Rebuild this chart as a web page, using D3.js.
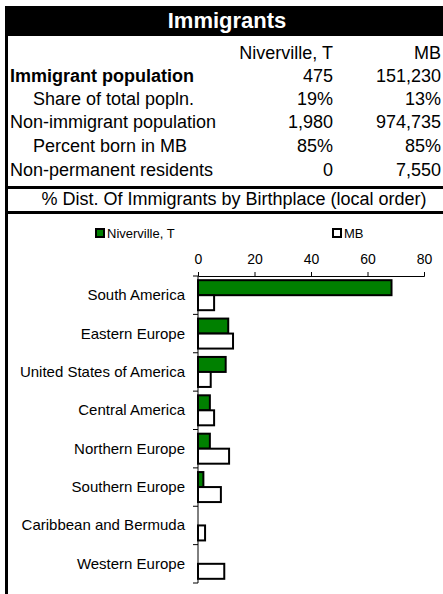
<!DOCTYPE html>
<html><head><meta charset="utf-8">
<script src="https://cdn.jsdelivr.net/npm/d3@7/dist/d3.min.js"></script>
<style>body{margin:0;background:#fff}svg{display:block;font-family:"Liberation Sans",Arial,sans-serif}</style>
</head><body>
<svg id="c" width="443" height="594"></svg>
<script>
const title = "Immigrants";
const columnHeaders = ["Niverville, T", "MB"];
const rowLabels = ["Immigrant population", "Share of total popln.", "Non-immigrant population", "Percent born in MB", "Non-permanent residents"];
const rowBold = [true, false, false, false, false];
const rowIndent = [false, true, false, true, false];
const localValues = ["475", "19%", "1,980", "85%", "0"];
const mbValues = ["151,230", "13%", "974,735", "85%", "7,550"];
const chartTitle = "% Dist. Of Immigrants by Birthplace (local order)";
const categories = ["South America", "Eastern Europe", "United States of America", "Central America", "Northern Europe", "Southern Europe", "Caribbean and Bermuda", "Western Europe"];
const localSeries = [68.5, 10.7, 9.8, 4.2, 4.2, 1.9, 0, 0];
const mbSeries = [5.7, 12.4, 4.5, 5.7, 11.0, 8.1, 2.5, 9.3];
const seriesNames = ["Niverville, T", "MB"];
const xTicks = [0, 20, 40, 60, 80];

const svg = d3.select("#c");
// title bar
svg.append("rect").attr("x", 5).attr("y", 6).attr("width", 438).attr("height", 30).attr("fill", "#000");
svg.append("text").attr("x", 227).attr("y", 28).attr("text-anchor", "middle").attr("fill", "#fff")
  .attr("font-size", 22).attr("font-weight", "bold").text(title);
// left border
svg.append("rect").attr("x", 5).attr("y", 36).attr("width", 3).attr("height", 558).attr("fill", "#000");

const fs = 18;
const col1 = 333, col2 = 441;
svg.append("text").attr("x", col1).attr("y", 59).attr("text-anchor", "end").attr("font-size", fs).text(columnHeaders[0]);
svg.append("text").attr("x", col2).attr("y", 59).attr("text-anchor", "end").attr("font-size", fs).text(columnHeaders[1]);
const rowY = [82, 105, 128, 152, 176];
rowLabels.forEach((l, i) => {
  svg.append("text").attr("x", rowIndent[i] ? 33 : 10).attr("y", rowY[i]).attr("font-size", fs)
    .attr("font-weight", rowBold[i] ? "bold" : "normal").text(l);
  svg.append("text").attr("x", col1).attr("y", rowY[i]).attr("text-anchor", "end").attr("font-size", fs).text(localValues[i]);
  svg.append("text").attr("x", col2).attr("y", rowY[i]).attr("text-anchor", "end").attr("font-size", fs).text(mbValues[i]);
});
svg.append("rect").attr("x", 5).attr("y", 186).attr("width", 438).attr("height", 3).attr("fill", "#000");
svg.append("text").attr("x", 234).attr("y", 205).attr("text-anchor", "middle").attr("font-size", fs).text(chartTitle);
svg.append("rect").attr("x", 5).attr("y", 211).attr("width", 438).attr("height", 3).attr("fill", "#000");

// legend
const green = "#008000";
const leg = [{x: 96, fill: green}, {x: 333, fill: "#fff"}];
leg.forEach((d, i) => {
  svg.append("rect").attr("x", d.x).attr("y", 229).attr("width", 8).attr("height", 8)
    .attr("fill", d.fill).attr("stroke", "#000").attr("stroke-width", 2);
  svg.append("text").attr("x", d.x + 11).attr("y", 238).attr("font-size", 13).text(seriesNames[i]);
});

// chart
const x = d3.scaleLinear().domain([0, 80]).range([198, 424]);
const y = d3.scaleBand().domain(categories).range([276, 583]);
const inner = d3.scaleBand().domain([0, 1]).range([0, 30]);
const off = (y.bandwidth() - 30) / 2;

const xAxis = svg.append("g").attr("transform", "translate(0,276)")
  .call(d3.axisTop(x).tickValues(xTicks).tickSize(4).tickPadding(8));
xAxis.select(".domain").attr("stroke", "#000");
xAxis.selectAll("text").attr("font-size", 14).attr("fill", "#000").attr("font-family", "Liberation Sans, Arial, sans-serif");

const series = [localSeries, mbSeries];
series.forEach((vals, s) => {
  svg.append("g").selectAll("rect").data(categories).join("rect")
    .attr("x", x(0))
    .attr("y", c => y(c) + off + inner(s))
    .attr("width", (c, i) => x(vals[i]) - x(0))
    .attr("height", inner.bandwidth())
    .attr("fill", s === 0 ? green : "#fff")
    .attr("stroke", "#000").attr("stroke-width", 2)
    .attr("display", (c, i) => vals[i] > 0 ? null : "none");
});

// y axis
const yAxisG = svg.append("g");
yAxisG.append("line").attr("x1", x(0)).attr("x2", x(0)).attr("y1", 276).attr("y2", 583).attr("stroke", "#000");
const bounds = categories.map(c => y(c)).concat([y(categories[categories.length - 1]) + y.bandwidth()]);
yAxisG.selectAll("line.t").data(bounds).join("line").attr("class", "t")
  .attr("x1", x(0) - 5).attr("x2", x(0)).attr("y1", d => d).attr("y2", d => d).attr("stroke", "#000");
yAxisG.selectAll("text").data(categories).join("text")
  .attr("x", 185).attr("y", c => y(c) + y.bandwidth() / 2 + 5)
  .attr("text-anchor", "end").attr("font-size", 15).text(c => c);
</script>
</body></html>
